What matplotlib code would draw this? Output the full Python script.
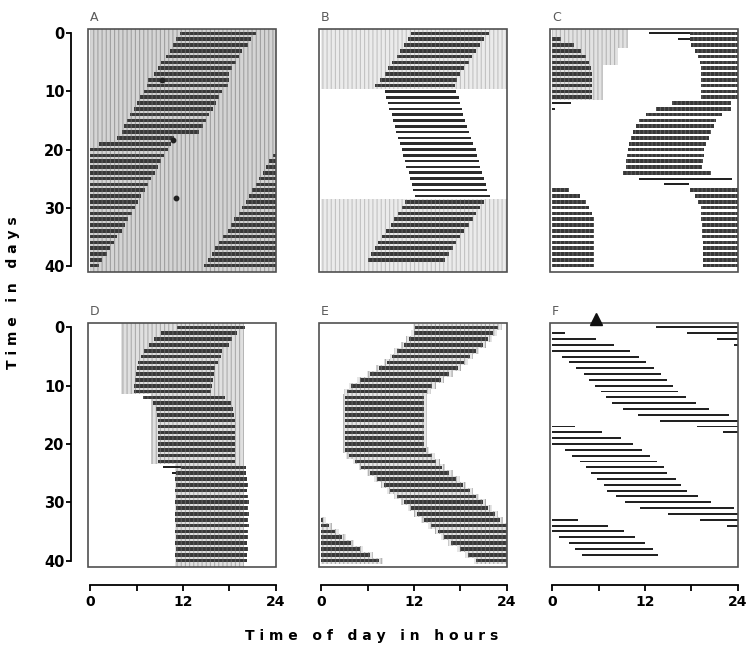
import numpy as np
import matplotlib
matplotlib.use('Agg')
import matplotlib.pyplot as plt
from matplotlib.patches import Rectangle

plt.rcParams['font.family'] = ['DejaVu Sans']
plt.rcParams['hatch.linewidth'] = 0.8

# ---------------- data (hours of activity per day) ----------------
# Panel A: constant light, free running rhythm
a1_on = [11.6, 11.1, 10.7, 10.3, 9.8, 9.2, 8.8, 8.2, 7.5, 7.3, 6.9, 6.4, 6.0, 5.6, 5.1, 4.7, 4.4, 4.1, 3.4]
a1_off = [21.4, 20.8, 20.4, 19.7, 19.3, 18.9, 18.4, 18.0, 18.0, 17.8, 17.1, 16.7, 16.3, 15.9, 15.4, 15.0, 14.6, 14.1, 10.9]
a2_on = [1.1] + [0.0] * 21
a2_off = [10.5, 10.1, 9.6, 9.2, 8.8, 8.4, 7.9, 7.5, 7.1, 6.6, 6.2, 5.8, 5.4, 4.9, 4.5, 4.1, 3.5, 3.1, 2.6, 2.1, 1.5, 1.1]
a3_on = [23.6, 23.1, 22.7, 22.3, 21.9, 21.4, 21.0, 20.6, 20.1, 19.6, 19.2, 18.6, 18.2, 17.8, 17.2, 16.7, 16.2, 15.7, 15.2, 14.7]
a3_off = [24.0] * 20
a_dot_hour = [9.3, 10.7, 11.1]
a_dot_day = [8.1, 18.4, 28.3]

# Panel B
b1_on = [11.6, 11.2, 10.7, 10.2, 9.8, 9.2, 8.7, 8.2, 7.6, 7.0]
b1_off = [21.7, 21.1, 20.5, 20.0, 19.5, 19.1, 18.5, 18.0, 17.6, 17.3]
b2_on = [8.2, 8.4, 8.6, 8.8, 9.1, 9.3, 9.5, 9.7, 9.9, 10.2, 10.4, 10.6, 10.8, 11.0, 11.3, 11.5, 11.7, 11.9, 12.1]
b2_off = [17.5, 17.8, 18.0, 18.2, 18.4, 18.6, 18.9, 19.1, 19.4, 19.7, 20.0, 20.2, 20.4, 20.6, 20.8, 21.1, 21.3, 21.5, 21.8]
b3_on = [10.9, 10.5, 9.9, 9.4, 9.0, 8.4, 7.9, 7.4, 7.0, 6.5, 6.0]
b3_off = [21.1, 20.6, 20.0, 19.6, 19.1, 18.5, 18.0, 17.5, 17.1, 16.5, 16.0]

# Panel C
c1_on = [17.8, 17.8, 18.0, 18.5, 18.9, 19.1, 19.2, 19.3, 19.3, 19.3, 19.3, 19.3]
c1_off = [24.0] * 12
c2_on = [0.0] * 11
c2_off = [1.1, 2.8, 3.7, 4.3, 4.7, 5.0, 5.2, 5.2, 5.2, 5.2, 5.2]
c3_on = [15.5, 13.4, 12.1, 11.2, 10.8, 10.5, 10.2, 9.9, 9.8, 9.7, 9.6, 9.5, 9.2]
c3_off = [23.1, 23.1, 22.0, 21.2, 20.9, 20.6, 20.3, 19.9, 19.7, 19.6, 19.5, 19.4, 20.5]
c4_on = [17.8, 18.5, 18.9, 19.2, 19.3, 19.3, 19.4, 19.4, 19.4, 19.5, 19.5, 19.5, 19.5, 19.5]
c4_off = [24.0] * 14
c5_on = [0.0] * 14
c5_off = [2.2, 3.6, 4.3, 4.7, 5.2, 5.4, 5.4, 5.4, 5.4, 5.4, 5.4, 5.4, 5.4, 5.4]
c_thin_day = [0, 1, 12, 13, 25, 26]
c_thin_on = [12.5, 16.3, 0.0, 0.0, 11.2, 14.5]
c_thin_off = [17.8, 17.8, 2.4, 0.3, 23.3, 17.7]

# Panel D
d_on = [11.2, 9.2, 8.3, 7.6, 6.9, 6.5, 6.2, 6.1, 5.9, 5.8, 5.7, 5.6, 6.8, 8.1, 8.5, 8.7,
        8.8, 8.8, 8.8, 8.8, 8.8, 8.8, 8.8, 8.8, 11.7, 11.1,
        11.0, 11.1, 11.0, 11.1, 11.0, 11.1, 11.0, 11.0, 11.1, 11.0, 11.1, 11.0, 11.1, 11.0, 11.1]
d_off = [20.0, 19.0, 18.4, 17.9, 17.1, 16.9, 16.5, 16.2, 16.0, 15.9, 15.7, 15.6, 17.5, 18.2, 18.5, 18.6,
         18.7, 18.7, 18.7, 18.7, 18.7, 18.7, 18.7, 18.7, 20.1, 20.2,
         20.3, 20.4, 20.3, 20.4, 20.5, 20.4, 20.5, 20.4, 20.5, 20.4, 20.4, 20.3, 20.4, 20.3, 20.3]
d_thin_day = [24, 25]
d_thin_on = [9.4, 10.6]
d_thin_off = [11.7, 11.1]

# Panel E
e1_on = [12.2, 12.0, 11.3, 10.7, 9.8, 9.2, 8.5, 7.5, 6.3, 5.0, 3.9, 3.3,
         3.1, 3.1, 3.1, 3.1, 3.1, 3.1, 3.1, 3.1, 3.1, 3.1,
         3.6, 4.4, 5.2, 6.3, 7.2, 8.1, 8.9, 9.8, 10.7, 11.6, 12.4, 13.3, 14.2, 15.1, 15.9, 16.8, 17.9, 19.0, 20.1]
e1_off = [22.9, 22.3, 21.6, 20.9, 20.0, 19.2, 18.5, 17.7, 16.6, 15.5, 14.4, 13.7,
          13.3, 13.3, 13.3, 13.3, 13.3, 13.3, 13.3, 13.3, 13.3,
          13.5, 14.3, 14.9, 15.6, 16.6, 17.5, 18.3, 19.2, 20.0, 20.9, 21.6, 22.5, 23.1,
          24.0, 24.0, 24.0, 24.0, 24.0, 24.0, 24.0]
e2_on = [0.0] * 8
e2_off = [0.2, 1.0, 1.8, 2.7, 3.8, 5.0, 6.3, 7.5]

# Panel F: single lines
f_day = [0, 1, 1, 2, 2, 3, 3, 4, 5, 6, 7, 8, 9, 10, 11, 12, 13, 14, 15, 16, 17, 17, 18, 18, 19,
         20, 21, 22, 23, 24, 25, 26, 27, 28, 29, 30, 31, 32, 33, 33, 34, 34, 35, 36, 37, 38, 39]
f_on = [13.4, 17.4, 0.0, 21.3, 0.0, 23.5, 0.0, 0.0, 1.2, 2.2, 3.1, 4.1, 4.8, 5.5, 6.3, 7.0, 7.7,
        9.1, 11.1, 14.0, 18.7, 0.0, 22.1, 0.0, 0.0, 0.0, 1.6, 2.6, 3.6, 4.3, 5.0, 5.8, 6.7, 7.1,
        8.2, 9.4, 11.3, 15.0, 19.1, 0.0, 22.6, 0.0, 0.0, 0.9, 2.1, 3.0, 3.9]
f_off = [24.0, 24.0, 1.6, 24.0, 5.6, 24.0, 8.0, 10.0, 11.2, 12.1, 13.2, 14.1, 14.8, 15.6, 16.3,
         17.3, 18.6, 20.3, 22.9, 24.0, 24.0, 2.9, 24.0, 6.4, 8.9, 10.4, 11.6, 12.7, 13.6, 14.4,
         14.9, 16.0, 16.7, 17.4, 18.9, 20.6, 23.5, 24.0, 24.0, 3.3, 24.0, 7.2, 9.3, 10.7, 12.0,
         13.0, 13.7]
f_marker_hour = 5.6

# light (hatched) periods: first day, last day, on hour, off hour
a_light = ([0], [40], [0.0], [24.0])
b_light = ([0, 29], [9, 40], [0.0, 0.0], [24.0, 24.0])
c_light = ([0, 3, 6], [2, 5, 11], [0.0, 0.0, 0.0], [9.8, 8.5, 6.5])
d_light = ([0, 12, 24], [11, 23, 40], [4.0, 7.9, 11.0], [19.9, 19.9, 19.9])

panel_labels = ['A', 'B', 'C', 'D', 'E', 'F']
y_ticks = [0, 10, 20, 30, 40]
x_ticks = [0, 12, 24]
x_minor = [6, 18]

# ---------------- styling ----------------
DARK = '#383838'
THIN = '#222222'
YLIM = (41.1, -0.75)
XLIM = (-0.3, 24.05)


def draw_light(ax, light, face='#d8d8d8', hc='#9c9c9c'):
    for first, last, on, off in zip(*light):
        y0 = first - 0.5 if first > 0 else YLIM[1]
        y1 = last + 0.5 if last < 40 else YLIM[0]
        ax.barh((y0 + y1) / 2, off - on, left=on, height=y1 - y0, color=face,
                edgecolor=hc, hatch='||||', linewidth=0, zorder=1)


def draw_bars(ax, first, on, off, height=0.62, color=DARK, hatch='||||', hc='#5e5e5e', z=3):
    days = np.arange(first, first + len(on))
    ax.barh(days, np.subtract(off, on), left=on, height=height, color=color,
            edgecolor=hc, hatch=hatch, linewidth=0, zorder=z)


def draw_lines(ax, days, on, off, height=0.33, color=THIN):
    ax.barh(days, np.subtract(off, on), left=on, height=height, color=color,
            linewidth=0, zorder=3)


fig = plt.figure(figsize=(7.47, 6.48), dpi=100)
lefts = [0.1178, 0.4270, 0.7363]
rows = [(0.5802, 0.375), (0.125, 0.3765)]
axes = []
for r, (bottom, height) in enumerate(rows):
    for c, left in enumerate(lefts):
        ax = fig.add_axes([left, bottom, 0.2517, height])
        ax.set_xlim(*XLIM)
        ax.set_ylim(*YLIM)
        for s in ['top', 'right', 'left', 'bottom']:
            ax.spines[s].set_visible(False)
        ax.set_xticks([])
        ax.set_yticks([])
        ax.add_patch(Rectangle((0, 0), 1, 1, transform=ax.transAxes, fill=False,
                               lw=1.2, ec='#505050', clip_on=False, zorder=6))
        ax.text(0.01, 1.022, panel_labels[r * 3 + c], transform=ax.transAxes,
                fontsize=9, color='#5a5a5a', ha='left', va='bottom')
        if c == 0:
            ax.spines['left'].set_visible(True)
            ax.spines['left'].set_position(('outward', 12))
            ax.spines['left'].set_bounds(0, 40)
            ax.spines['left'].set_linewidth(1.3)
            ax.set_yticks(y_ticks)
            ax.tick_params(axis='y', direction='out', length=3.5, width=1.3, pad=1.5,
                           labelsize=10.5)
            for t in ax.get_yticklabels():
                t.set_fontweight('bold')
        if r == 1:
            ax.spines['bottom'].set_visible(True)
            ax.spines['bottom'].set_position(('outward', 13))
            ax.spines['bottom'].set_bounds(0, 24)
            ax.spines['bottom'].set_linewidth(1.3)
            ax.set_xticks(x_ticks)
            ax.set_xticks(x_minor, minor=True)
            ax.tick_params(axis='x', which='both', direction='out', length=4.5,
                           width=1.3, pad=3, labelsize=10)
            for t in ax.get_xticklabels():
                t.set_fontweight('bold')
        axes.append(ax)

ax_a, ax_b, ax_c, ax_d, ax_e, ax_f = axes

# A
draw_light(ax_a, a_light, face='#d4d4d4', hc='#a0a0a0')
draw_bars(ax_a, 0, a1_on, a1_off)
draw_bars(ax_a, 19, a2_on, a2_off)
draw_bars(ax_a, 21, a3_on, a3_off)
ax_a.plot(a_dot_hour, a_dot_day, 'o', color='#222222', ms=3.2, zorder=4)

# B
draw_light(ax_b, b_light, face='#ebebeb', hc='#c2c2c2')
draw_bars(ax_b, 0, b1_on, b1_off)
draw_bars(ax_b, 10, b2_on, b2_off, height=0.45, color='#2c2c2c', hatch=None)
draw_bars(ax_b, 29, b3_on, b3_off)

# C
draw_light(ax_c, c_light, face='#e2e2e2', hc='#b5b5b5')
draw_bars(ax_c, 0, c1_on, c1_off)
draw_bars(ax_c, 1, c2_on, c2_off)
draw_bars(ax_c, 12, c3_on, c3_off)
draw_bars(ax_c, 27, c4_on, c4_off)
draw_bars(ax_c, 27, c5_on, c5_off)
draw_lines(ax_c, c_thin_day, c_thin_on, c_thin_off)

# D
draw_light(ax_d, d_light, face='#e0e0e0', hc='#adadad')
draw_bars(ax_d, 0, d_on, d_off)
draw_lines(ax_d, d_thin_day, d_thin_on, d_thin_off)

# E: bars with a hatched fringe
for first, on, off in [(0, e1_on, e1_off), (33, e2_on, e2_off)]:
    draw_bars(ax_e, first, np.clip(np.subtract(on, 0.35), 0, 24),
              np.clip(np.add(off, 0.45), 0, 24), height=1.0, color='#e6e6e6',
              hc='#ababab', z=2)
    draw_bars(ax_e, first, on, off)

# F
draw_lines(ax_f, f_day, f_on, f_off, height=0.33)
ax_f.plot([f_marker_hour], [YLIM[1] - 0.7], marker='^', color='#111111', ms=8,
          clip_on=False, zorder=7)

fig.text(0.018, 0.549, 'T i m e   i n   d a y s', rotation=90, ha='center',
         va='center', fontsize=10, fontweight='bold')
fig.text(0.498, 0.019, 'T i m e   o f   d a y   i n   h o u r s', ha='center',
         va='center', fontsize=10, fontweight='bold')

fig.savefig('out.png', dpi=100)
